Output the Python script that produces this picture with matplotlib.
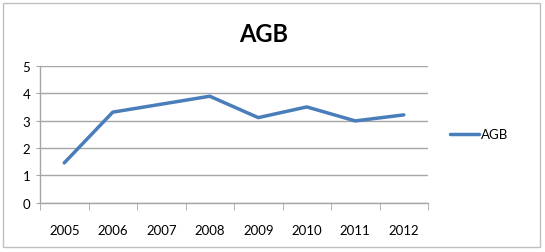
import matplotlib.pyplot as plt
from matplotlib.patches import Rectangle

years = ["2005", "2006", "2007", "2008", "2009", "2010", "2011", "2012"]
agb = [1.46, 3.31, 3.6, 3.89, 3.11, 3.5, 2.99, 3.21]
y_ticks = [0, 1, 2, 3, 4, 5]

LINE_COLOR = "#4A7EBB"
GRID_COLOR = "#A6A6A6"

plt.rcParams["font.family"] = ["Lato", "DejaVu Sans"]

fig = plt.figure(figsize=(5.45, 2.53), dpi=100)
ax = fig.add_axes([0.0734, 0.194, 0.712, 0.542])

x = list(range(len(years)))
ax.plot(x, agb, color=LINE_COLOR, linewidth=2.5, solid_capstyle="round",
        solid_joinstyle="round", label="AGB")

ax.set_xlim(-0.5, len(years) - 0.5)
ax.set_ylim(0, 5)
ax.set_yticks(y_ticks)
ax.set_xticks(x)
ax.set_xticklabels(years)
ax.set_xticks([i - 0.5 for i in range(len(years) + 1)], minor=True)

ax.grid(axis="y", color=GRID_COLOR, linewidth=1.0)
ax.set_axisbelow(True)
for side in ["top", "right"]:
    ax.spines[side].set_visible(False)
for side in ["left", "bottom"]:
    ax.spines[side].set_color(GRID_COLOR)
    ax.spines[side].set_linewidth(1.0)

ax.tick_params(axis="x", which="major", length=0, pad=15, labelsize=9.5)
ax.tick_params(axis="x", which="minor", length=5, color=GRID_COLOR, direction="out")
ax.tick_params(axis="y", length=3, color=GRID_COLOR, pad=4, labelsize=9.5)

fig.text(0.483, 0.865, "AGB", ha="center", va="center", fontsize=17, fontweight="bold")

ax.legend(loc="center left", bbox_to_anchor=(1.025, 0.5), frameon=False,
          fontsize=9.5, handlelength=2.2, handletextpad=0.15)

fig.patches.append(Rectangle((0.006, 0.02), 0.985, 0.965, transform=fig.transFigure,
                             fill=False, edgecolor="#BFBFBF", linewidth=1.0))

fig.savefig("out.png", dpi=100)
